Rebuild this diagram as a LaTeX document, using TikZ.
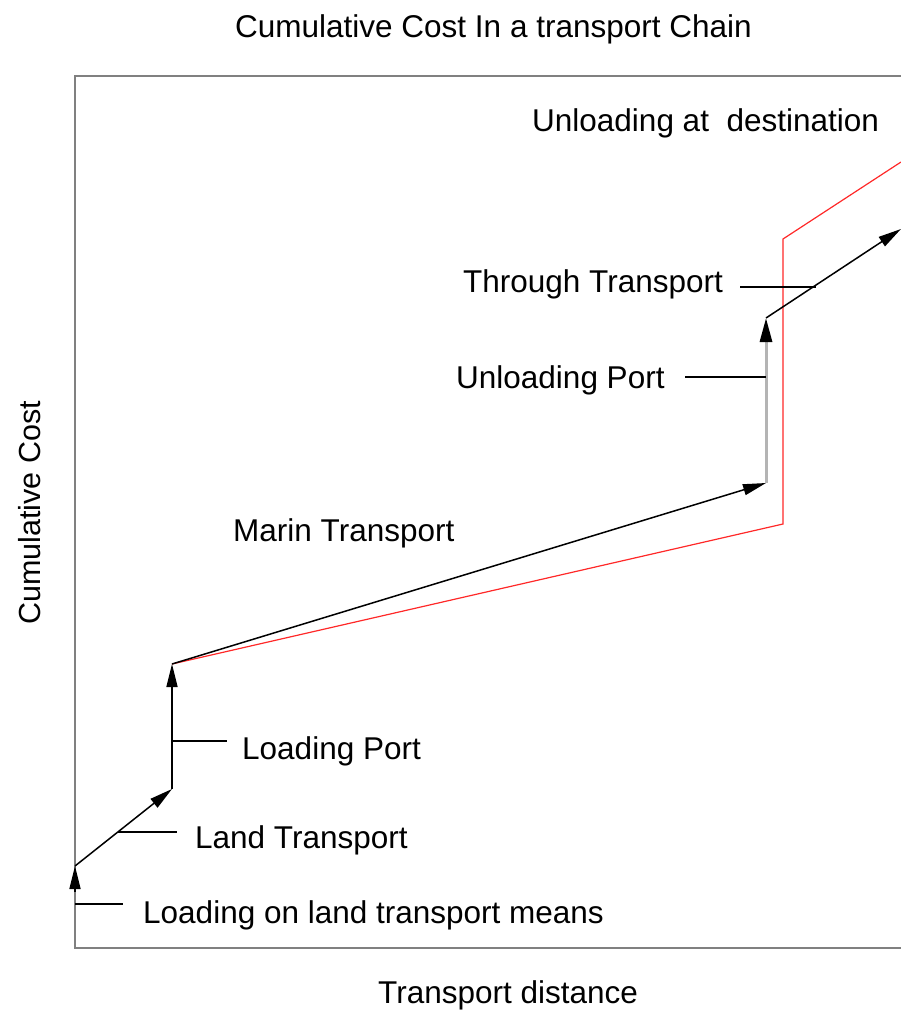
\documentclass[tikz,border=0pt]{standalone}
\usepackage{fontspec}
\setmainfont{Liberation Sans}
\usetikzlibrary{arrows.meta}
\definecolor{framegray}{RGB}{128,128,128}
\definecolor{lightgr}{RGB}{180,180,180}
\definecolor{redline}{RGB}{255,40,40}
\begin{document}
\begin{tikzpicture}[x=1pt,y=-1pt,
  lbl/.style={inner sep=0pt,anchor=base west,font=\fontsize{31.5}{36}\selectfont},
  cst/.style={black,line width=1.5pt,-{Triangle[length=23pt,width=11pt]}},
  tick/.style={black,line width=1.5pt}]
\useasboundingbox (0,0) rectangle (901,1010);
% frame
\draw[framegray,line width=1.8pt] (901,76) -- (75,76) -- (75,948) -- (901,948);
% titles
\node[lbl] (title) at (235,37) {Cumulative Cost In a transport Chain};
\node[lbl] (xlab) at (378,1003) {Transport distance};
\node[inner sep=0pt,anchor=base,rotate=90,font=\fontsize{30.5}{36}\selectfont] (ylab) at (40,513) {Cumulative Cost};
% points
\coordinate (p0) at (75,892);
\coordinate (p1) at (75,866);
\coordinate (p2) at (172,789);
\coordinate (p3) at (172,664);
\coordinate (p4) at (766,483);
\coordinate (p5) at (766,318);
\coordinate (p6) at (901,229);
\coordinate (r1) at (783,524);
\coordinate (r2) at (783,239);
\coordinate (r3) at (901,162);
% red line
\draw[redline,line width=1.2pt] (p3) -- (r1) -- (r2) -- (r3);
% cost chain
\draw[cst] (p0) -- (p1);
\draw[cst] (p1) -- (p2);
\draw[cst] (p2) -- (p3);
\draw[cst] (p3) -- (p4);
\draw[lightgr,line width=3pt,-{Triangle[length=24pt,width=12pt,color=black]}] (p4) -- (p5);
\draw[cst] (p5) -- (p6);
% labels
\node[lbl] (l1) at (143,923) {Loading on land transport means};
\node[lbl] (l2) at (195,848) {Land Transport};
\node[lbl] (l3) at (242,759) {Loading Port};
\node[lbl] (l4) at (233,541) {Marin Transport};
\node[lbl] (l5) at (456,388) {Unloading Port};
\node[lbl] (l6) at (463,292) {Through Transport};
\node[lbl] (l7) at (532,131) {Unloading at\ \ destination};
% label leaders
\coordinate (t1a) at (75,904);  \coordinate (t1b) at (123,904);
\coordinate (t2a) at (118,832); \coordinate (t2b) at (177,832);
\coordinate (t3a) at (172,741); \coordinate (t3b) at (227,741);
\coordinate (t5a) at (685,377); \coordinate (t5b) at (766,377);
\coordinate (t6a) at (740,287); \coordinate (t6b) at (816,287);
\draw[tick] (t1a) -- (t1b);
\draw[tick] (t2a) -- (t2b);
\draw[tick] (t3a) -- (t3b);
\draw[tick] (t5a) -- (t5b);
\draw[tick] (t6a) -- (t6b);
\end{tikzpicture}
\end{document}
